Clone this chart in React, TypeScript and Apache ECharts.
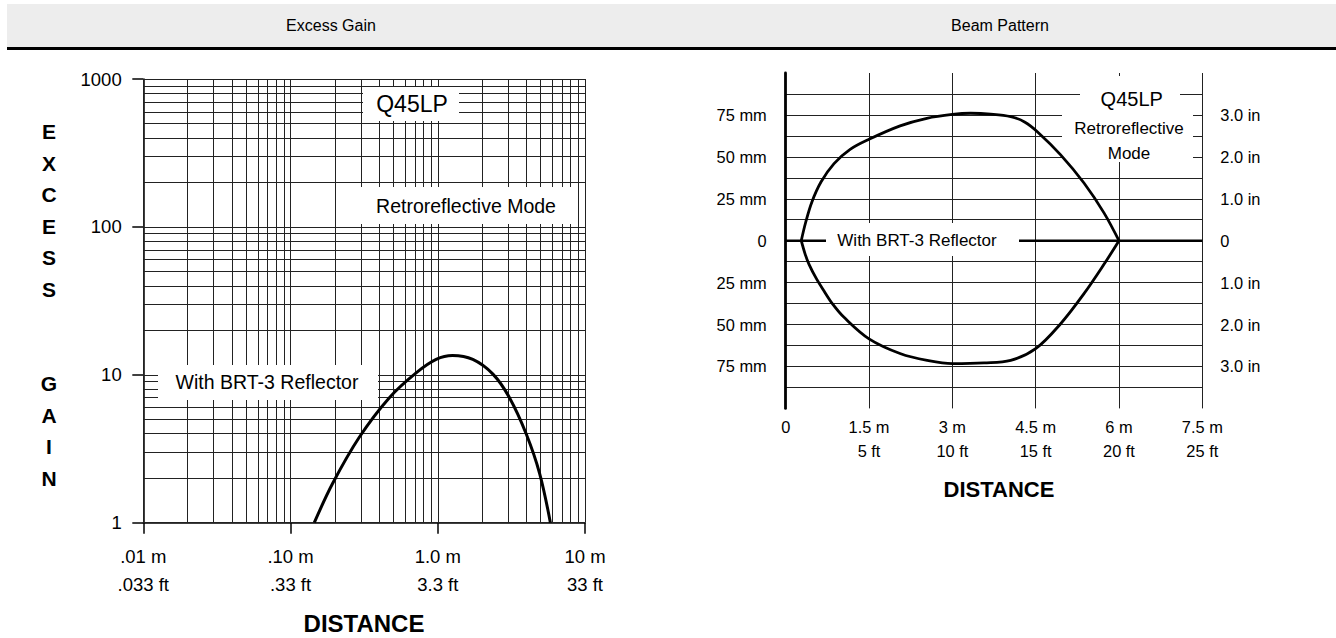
import React, { useEffect, useRef } from "react";
import * as echarts from "echarts";

const FONT = "'Liberation Sans', Arial, Helvetica, sans-serif";

// ---- Excess Gain (left) ----
const gainDistanceM = [0.145, 0.193, 0.293, 0.469, 0.713, 0.975, 1.26, 1.73, 2.37, 3.07, 3.99, 4.92, 5.82];
const gainValue = [1, 1.84, 3.78, 7.0, 10.3, 12.7, 13.5, 12.7, 10.1, 7.0, 3.98, 2.15, 1];
const gainXTickLabels = [".01 m\n.033 ft", ".10 m\n.33 ft", "1.0 m\n3.3 ft", "10 m\n33 ft"];
const gainYTickLabels = ["1", "10", "100", "1000"];
const logMultipliers = [1, 2, 3, 4, 5, 6, 7, 8, 9];
const gainXDecades = [0.01, 0.1, 1];
const gainYDecades = [1, 10, 100];
const gainXMax = 10;
const gainYMax = 1000;

// ---- Beam Pattern (right) ----
const beamUpperDistance = [0.28, 0.36, 0.47, 0.635, 0.87, 1.16, 1.5, 2.06, 2.54, 3.0, 3.33, 3.69, 4.05, 4.3, 4.53, 4.95, 5.37, 5.73, 6.0];
const beamUpperWidth = [0, 11, 23, 35, 46, 54.5, 60.5, 68.5, 73, 75.3, 76, 75.5, 74, 70.8, 65, 51.2, 34.4, 16.6, 0];
const beamLowerDistance = [0.28, 0.35, 0.42, 0.55, 0.69, 0.85, 1.05, 1.5, 2.07, 2.55, 3.0, 3.57, 4.05, 4.5, 4.95, 5.37, 5.73, 6.0];
const beamLowerWidth = [0, -8, -14.1, -22.5, -30, -38, -45.7, -58.5, -67.4, -71.4, -73.3, -72.9, -71.4, -64.4, -49.5, -31.6, -14.1, 0];
const beamZeroLine = [[0, 0], [7.5, 0]];
const beamXTickLabels = ["0", "1.5 m\n5 ft", "3 m\n10 ft", "4.5 m\n15 ft", "6 m\n20 ft", "7.5 m\n25 ft"];
const beamYTickValues = [75, 50, 25, 0, -25, -50, -75];
const beamYLeftLabels = ["75 mm", "50 mm", "25 mm", "0", "25 mm", "50 mm", "75 mm"];
const beamYRightLabels = ["3.0 in", "2.0 in", "1.0 in", "0", "1.0 in", "2.0 in", "3.0 in"];

const gainXGrid = gainXDecades
  .flatMap((d) => logMultipliers.map((m) => +(d * m).toPrecision(3)))
  .concat([gainXMax]);
const gainYGrid = gainYDecades
  .flatMap((d) => logMultipliers.map((m) => +(d * m).toPrecision(3)))
  .concat([gainYMax]);

function beamLabel(v: number, labels: string[]) {
  const i = beamYTickValues.findIndex((t) => Math.abs(t - v) < 1e-6);
  return i >= 0 ? labels[i] : "";
}

function txt(x: number, y: number, text: string, size: number, extra: any = {}) {
  return {
    type: "text",
    x,
    y,
    z: 4,
    silent: true,
    style: {
      text,
      fill: "#000",
      fontSize: size,
      fontFamily: FONT,
      align: "center",
      verticalAlign: "middle",
      ...extra,
    },
  };
}

function box(x: number, y: number, w: number, h: number) {
  return { type: "rect", z: 3, silent: true, shape: { x, y, width: w, height: h }, style: { fill: "#fff" } };
}

export default function App() {
  const ref = useRef<HTMLDivElement>(null);

  useEffect(() => {
    if (!ref.current) return;
    const chart = echarts.init(ref.current, null, { renderer: "svg" });
    const gridLine = { color: "#222", width: 1, type: "solid" };
    const curve = (width: number, smooth: number) => ({
      type: "line",
      smooth,
      symbol: "none",
      showSymbol: false,
      lineStyle: { color: "#000", width },
      z: 10,
      silent: true,
    });
    const option: any = {
      animation: false,
      textStyle: { fontFamily: FONT },
      grid: [
        { left: 143.3, top: 79, width: 441.7, height: 443.7 },
        { left: 785.7, top: 73, width: 416.6, height: 335.4 },
      ],
      xAxis: [
        {
          type: "log",
          logBase: 10,
          min: 0.01,
          max: 10,
          gridIndex: 0,
          axisLine: { show: true, onZero: false, lineStyle: { color: "#000", width: 1.5 } },
          axisTick: { show: true, length: 11, lineStyle: { color: "#000", width: 1.5 } },
          splitLine: { show: false },
          axisLabel: {
            margin: 19.3,
            color: "#000",
            fontSize: 18.5,
            lineHeight: 28,
            fontFamily: FONT,
            formatter: (v: number) => gainXTickLabels[Math.round(Math.log10(v)) + 2] ?? "",
          },
        },
        {
          type: "value",
          min: 0,
          max: 7.5,
          interval: 1.5,
          gridIndex: 1,
          axisLine: { show: false, onZero: false },
          axisTick: { show: false },
          splitLine: { show: true, lineStyle: gridLine },
          axisLabel: {
            margin: 7,
            color: "#000",
            fontSize: 16.4,
            lineHeight: 24,
            fontFamily: FONT,
            formatter: (v: number) => beamXTickLabels[Math.round(v / 1.5)] ?? "",
          },
        },
      ],
      yAxis: [
        {
          type: "log",
          logBase: 10,
          min: 1,
          max: 1000,
          gridIndex: 0,
          axisLine: { show: true, onZero: false, lineStyle: { color: "#000", width: 1.5 } },
          axisTick: { show: true, length: 11, lineStyle: { color: "#000", width: 1.5 } },
          splitLine: { show: false },
          axisLabel: {
            margin: 21.6,
            color: "#000",
            fontSize: 18.5,
            fontFamily: FONT,
            formatter: (v: number) => gainYTickLabels[Math.round(Math.log10(v))] ?? "",
          },
        },
        {
          type: "value",
          min: -100,
          max: 100,
          interval: 12.5,
          gridIndex: 1,
          position: "left",
          axisLine: { show: true, onZero: false, lineStyle: { color: "#000", width: 2.8 } },
          axisTick: { show: false },
          splitLine: { show: true, showMinLine: false, showMaxLine: false, lineStyle: gridLine },
          axisLabel: {
            margin: 19,
            color: "#000",
            fontSize: 16.4,
            fontFamily: FONT,
            formatter: (v: number) => beamLabel(v, beamYLeftLabels),
          },
        },
        {
          type: "value",
          min: -100,
          max: 100,
          interval: 12.5,
          gridIndex: 1,
          position: "right",
          axisLine: { show: false, onZero: false },
          axisTick: { show: false },
          splitLine: { show: false },
          axisLabel: {
            margin: 18,
            color: "#000",
            fontSize: 16.4,
            fontFamily: FONT,
            formatter: (v: number) => beamLabel(v, beamYRightLabels),
          },
        },
      ],
      series: [
        {
          ...curve(3, 0.35),
          name: "Excess Gain",
          xAxisIndex: 0,
          yAxisIndex: 0,
          data: gainDistanceM.map((d, i) => [d, gainValue[i]]),
          markLine: {
            z: 1,
            silent: true,
            animation: false,
            symbol: ["none", "none"],
            label: { show: false },
            emphasis: { disabled: true },
            lineStyle: gridLine,
            data: [
              ...gainXGrid.map((v) => ({ xAxis: v })),
              ...gainYGrid.map((v) => ({ yAxis: v })),
            ],
          },
        },
        {
          type: "line",
          name: "Axis",
          xAxisIndex: 1,
          yAxisIndex: 1,
          data: beamZeroLine,
          symbol: "none",
          showSymbol: false,
          lineStyle: { color: "#000", width: 2.6 },
          z: 2,
          silent: true,
        },
        {
          ...curve(2.8, 0.35),
          name: "Upper",
          xAxisIndex: 1,
          yAxisIndex: 1,
          data: beamUpperDistance.map((d, i) => [d, beamUpperWidth[i]]),
        },
        {
          ...curve(2.8, 0.35),
          name: "Lower",
          xAxisIndex: 1,
          yAxisIndex: 1,
          data: beamLowerDistance.map((d, i) => [d, beamLowerWidth[i]]),
        },
      ],
      graphic: [
        { type: "rect", z: 0, silent: true, shape: { x: 7, y: 4, width: 1329, height: 43 }, style: { fill: "#ededed" } },
        { type: "rect", z: 1, silent: true, shape: { x: 7, y: 47, width: 1329, height: 3 }, style: { fill: "#000" } },
        txt(331, 25, "Excess Gain", 16),
        txt(1000, 25, "Beam Pattern", 16),
        // left chart annotations
        box(363, 87, 96, 34),
        txt(412, 104, "Q45LP", 23),
        box(353, 187, 225, 37),
        txt(466, 205.5, "Retroreflective Mode", 19.5),
        box(158, 365, 220, 35),
        txt(267, 382, "With BRT-3 Reflector", 19.5),
        // right chart annotations
        box(826, 223, 193, 33),
        txt(917, 240, "With BRT-3 Reflector", 17),
        box(1080, 76, 100, 30),
        box(1062, 104, 131, 58),
        txt(1131.7, 99, "Q45LP", 20),
        txt(1129, 128.5, "Retroreflective", 17),
        txt(1129, 153, "Mode", 17),
        // axis titles
        txt(49, 116, "E\nX\nC\nE\nS\nS\n\n\nG\nA\nI\nN", 21, {
          fontWeight: "bold",
          lineHeight: 31.5,
          verticalAlign: "top",
        }),
        txt(364, 623, "DISTANCE", 24, { fontWeight: "bold" }),
        txt(999, 489, "DISTANCE", 22, { fontWeight: "bold" }),
      ],
    };
    chart.setOption(option);
    return () => chart.dispose();
  }, []);

  return (
    <div
      ref={ref}
      style={{ position: "absolute", left: 0, top: 0, width: 1336, height: 638, background: "#fff" }}
    />
  );
}
